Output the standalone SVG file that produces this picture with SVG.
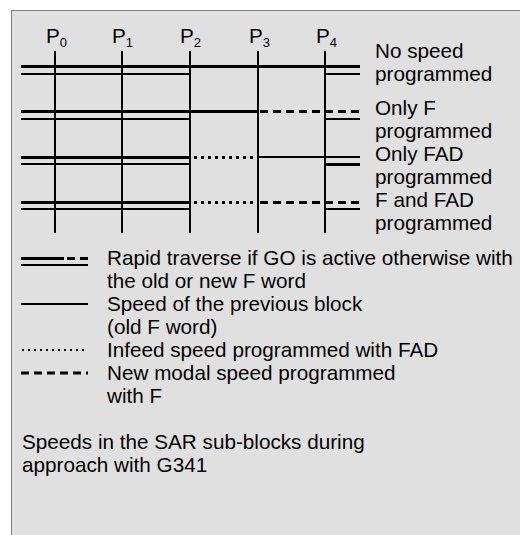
<svg xmlns="http://www.w3.org/2000/svg" width="520" height="535" viewBox="0 0 520 535">
<style>
text{font-family:"Liberation Sans",Arial,sans-serif;font-size:20.7px;fill:#000}
.sub{font-size:13px}
.v{stroke:#000;stroke-width:2}
.tk{stroke:#000;stroke-width:3;fill:none}
.tn{stroke:#000;stroke-width:2;fill:none}
.dot{stroke:#000;stroke-width:3;stroke-dasharray:3 4;fill:none}
.dash{stroke:#000;stroke-width:3;stroke-dasharray:8 5;fill:none}
</style>
<rect x="11.5" y="10.5" width="520" height="540" fill="#e0e0e0" stroke="#7f7f7f" stroke-width="1"/>
<g id="labels-p">
<text x="46" y="43">P<tspan class="sub" dy="4">0</tspan></text>
<text x="112" y="43">P<tspan class="sub" dy="4">1</tspan></text>
<text x="180" y="43">P<tspan class="sub" dy="4">2</tspan></text>
<text x="249" y="43">P<tspan class="sub" dy="4">3</tspan></text>
<text x="316" y="43">P<tspan class="sub" dy="4">4</tspan></text>
</g>
<g id="connectors">
<line class="v" x1="55" y1="51" x2="55" y2="233"/>
<line class="v" x1="122" y1="51" x2="122" y2="233"/>
<line class="v" x1="190" y1="51" x2="190" y2="233"/>
<line class="v" x1="258" y1="51" x2="258" y2="233"/>
<line class="v" x1="325" y1="51" x2="325" y2="233"/>
<!-- row 1 -->
<line class="tk" x1="21" y1="66.5" x2="360" y2="66.5"/>
<line class="tn" x1="21" y1="74" x2="190" y2="74"/>
<line class="tn" x1="325" y1="74" x2="360" y2="74"/>
<!-- row 2 -->
<line class="tk" x1="21" y1="111.5" x2="258" y2="111.5"/>
<line class="dash" x1="260" y1="111.5" x2="360" y2="111.5"/>
<line class="tn" x1="21" y1="119" x2="190" y2="119"/>
<line class="tn" x1="325" y1="119" x2="360" y2="119"/>
<!-- row 3 -->
<line class="tk" x1="21" y1="157.5" x2="190" y2="157.5"/>
<line class="dot" x1="194" y1="157.5" x2="258" y2="157.5"/>
<line class="tn" x1="258" y1="157" x2="360" y2="157"/>
<line class="tn" x1="21" y1="164" x2="190" y2="164"/>
<line class="tk" x1="325" y1="164.5" x2="360" y2="164.5"/>
<!-- row 4 -->
<line class="tk" x1="21" y1="202.5" x2="190" y2="202.5"/>
<line class="dot" x1="194" y1="202.5" x2="258" y2="202.5"/>
<line class="dash" x1="260" y1="202.5" x2="360" y2="202.5"/>
<line class="tn" x1="21" y1="209" x2="190" y2="209"/>
<line class="tn" x1="325" y1="209" x2="360" y2="209"/>
</g>
<g id="row-labels">
<text x="375" y="58">No speed</text>
<text x="375" y="81">programmed</text>
<text x="375" y="115">Only F</text>
<text x="375" y="138">programmed</text>
<text x="375" y="161">Only FAD</text>
<text x="375" y="184">programmed</text>
<text x="375" y="207">F and FAD</text>
<text x="375" y="230">programmed</text>
</g>
<g id="legend-rapid">
<line class="tk" x1="21" y1="258.5" x2="64" y2="258.5"/>
<line class="tk" x1="67" y1="258.5" x2="75" y2="258.5"/>
<line class="tk" x1="80" y1="258.5" x2="88" y2="258.5"/>
<line class="tn" x1="21" y1="265" x2="88" y2="265"/>
<text x="107" y="265">Rapid traverse if GO is active otherwise with</text>
<text x="107" y="288">the old or new F word</text>
</g>
<g id="legend-previous">
<line class="tn" x1="21" y1="304" x2="88" y2="304"/>
<text x="107" y="311">Speed of the previous block</text>
<text x="107" y="334">(old F word)</text>
</g>
<g id="legend-infeed">
<line class="tn" x1="22" y1="350" x2="88" y2="350" stroke-dasharray="2 4"/>
<text x="107" y="357">Infeed speed programmed with FAD</text>
</g>
<g id="legend-modal">
<line class="dash" x1="21" y1="373" x2="88" y2="373" stroke-dasharray="7 4.5"/>
<text x="107" y="380">New modal speed programmed</text>
<text x="107" y="403">with F</text>
</g>
<g id="caption">
<text x="22" y="449">Speeds in the SAR sub-blocks during</text>
<text x="22" y="472">approach with G341</text>
</g>
</svg>
